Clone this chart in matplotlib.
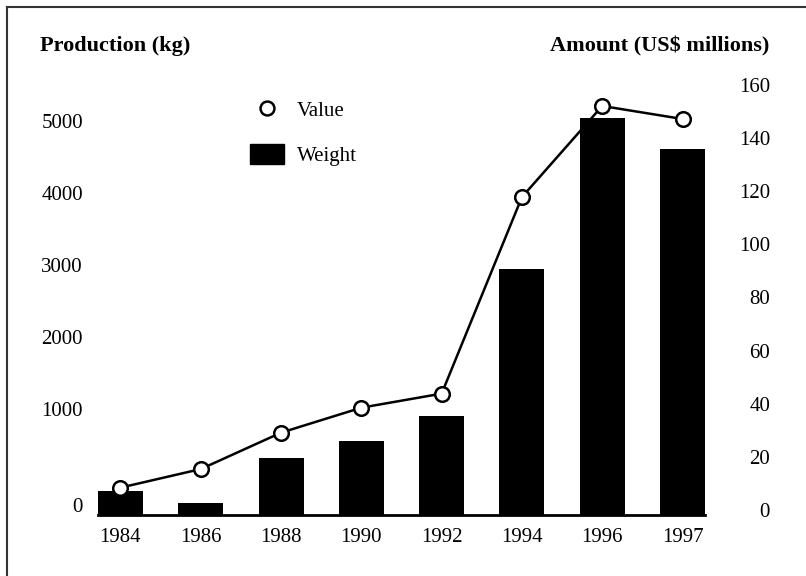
import matplotlib.pyplot as plt
import matplotlib as mpl
import numpy as np
from matplotlib.lines import Line2D
from matplotlib.patches import Patch
from matplotlib.transforms import ScaledTranslation

years = ["1984", "1986", "1988", "1990", "1992", "1994", "1996", "1997"]
weight_kg = [229, 116, 538, 701, 937, 2944, 5042, 4611]
value_musd = [8.4, 15.4, 29.1, 38.5, 43.8, 117.8, 152.1, 147.2]
left_ticks = [0, 1000, 2000, 3000, 4000, 5000]
right_ticks = [0, 20, 40, 60, 80, 100, 120, 140, 160]

plt.rcParams['font.family'] = ['Liberation Serif', 'DejaVu Serif']
FS = 15

W, H = 806, 576


def kg_forward(v):
    # the printed kg axis is stretched below 1000 and compressed above it
    v = np.asarray(v, dtype=float)
    return np.where(v <= 1000, v * 0.106, 106 + (v - 1000) * 0.072)


def kg_inverse(p):
    p = np.asarray(p, dtype=float)
    return np.where(p <= 106, p / 0.106, 1000 + (p - 106) / 0.072)


fig = plt.figure(figsize=(W / 100, H / 100), dpi=100)
ax = fig.add_axes([98 / W, 1 - 515 / H, 607 / W, 430 / H])
ax2 = ax.twinx()

x = np.arange(len(years))
ax.bar(x, weight_kg, width=0.56, color='black', zorder=2)
ax.set_yscale('function', functions=(kg_forward, kg_inverse))
ax.set_ylim(0, 5500)
ax.set_xlim(-0.28, len(years) - 1 + 0.28)
ax.set_yticks(left_ticks)
ax.set_yticklabels([str(t) for t in left_ticks])
ax.yaxis.set_minor_locator(mpl.ticker.NullLocator())
ax.set_xticks(x)
ax.set_xticklabels(years)
ax.tick_params(axis='both', length=0, labelsize=FS)
ax.tick_params(axis='y', pad=10.8)
ax.tick_params(axis='x', pad=9)

ax2.plot(x, value_musd, color='black', lw=1.8, marker='o', markersize=10.5,
         markerfacecolor='white', markeredgecolor='black', markeredgewidth=1.8,
         zorder=3, clip_on=False)
ax2.set_ylim(-1.9, 160)
ax2.set_yticks(right_ticks)
ax2.set_yticklabels([str(t) for t in right_ticks])
ax2.tick_params(axis='y', length=0, labelsize=FS, pad=46.8)
for lbl in ax2.get_yticklabels():
    lbl.set_horizontalalignment('right')

for a in (ax, ax2):
    for side in ('top', 'left', 'right', 'bottom'):
        a.spines[side].set_visible(False)
ax.spines['bottom'].set_visible(True)
ax.spines['bottom'].set_linewidth(2)
ax.spines['bottom'].set_zorder(4)

# the "0" kg label sits a little above the baseline in the source
zero_lbl = ax.yaxis.get_major_ticks()[0].label1
zero_lbl.set_transform(zero_lbl.get_transform()
                       + ScaledTranslation(0, 10 / 100, fig.dpi_scale_trans))

fig.text(40 / W, 1 - 46 / H, "Production (kg)", fontsize=16, fontweight='bold',
         ha='left', va='center')
fig.text(769 / W, 1 - 46 / H, "Amount (US$ millions)", fontsize=16, fontweight='bold',
         ha='right', va='center')

handles = [
    Line2D([], [], linestyle='none', marker='o', markersize=10,
           markerfacecolor='white', markeredgecolor='black', markeredgewidth=1.8),
    Patch(facecolor='black', edgecolor='black'),
]
fig.legend(handles, ["Value", "Weight"], loc='upper left',
           bbox_to_anchor=(240 / W, 1 - 89 / H), frameon=False, borderpad=0,
           fontsize=FS, handlelength=1.59, handleheight=1.06,
           handletextpad=0.63, labelspacing=1.1)

# frame: only the top and left edges show in the source
fig.add_artist(Line2D([7 / W, 7 / W], [0, 1 - 7 / H], color='#333333', lw=1.5,
                      transform=fig.transFigure))
fig.add_artist(Line2D([7 / W, 1], [1 - 7 / H, 1 - 7 / H], color='#333333', lw=1.5,
                      transform=fig.transFigure))

fig.savefig("out.png", dpi=100)
